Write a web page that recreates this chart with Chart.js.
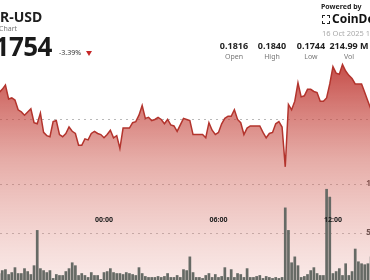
<!DOCTYPE html>
<html>
<head>
<meta charset="utf-8">
<script src="https://cdn.jsdelivr.net/npm/chart.js@4.4.1/dist/chart.umd.min.js"></script>
<style>
  html, body { margin: 0; padding: 0; width: 370px; height: 280px; overflow: hidden; background: #fff; }
  body { position: relative; font-family: 'Noto Sans', 'Open Sans', sans-serif; }
  #chart-wrap { position: absolute; left: 0; top: 0; width: 383px; height: 282px; }
  .t { position: absolute; white-space: nowrap; line-height: 1; }
  .stat { position: absolute; width: 50px; text-align: center; line-height: 1; }
  .stat b { display: block; font-size: 9px; font-weight: 700; color: #222; }
  .stat span { display: block; font-size: 7px; color: #777; margin-top: 3px; }
</style>
</head>
<body>
<div id="chart-wrap"><canvas id="fluxo-chart"></canvas></div>

<div class="t" style="left:0;top:10px;font-size:14px;font-weight:700;color:#1f1f1f">R-USD</div>
<div class="t" style="left:-1px;top:25px;font-size:7px;color:#777">Chart</div>
<div class="t" style="right:318px;top:33px;font-size:26px;font-weight:700;color:#1a1a1a;text-align:right;letter-spacing:-0.5px">0.1754</div>
<div class="t" style="left:59px;top:49px;font-size:7px;color:#333">-3.39%</div>
<div style="position:absolute;left:86px;top:51px;width:0;height:0;border-left:3px solid transparent;border-right:3px solid transparent;border-top:5px solid #c62828"></div>

<div class="t" style="left:321px;top:3px;font-size:7px;font-weight:700;color:#222">Powered by</div>
<div style="position:absolute;left:322px;top:15px;width:6px;height:7px;border:1px dashed #222"></div>
<div class="t" style="left:332px;top:13px;font-size:12px;font-weight:700;color:#111">CoinDesk</div>
<div class="t" style="left:322px;top:30px;font-size:7.5px;color:#aaa">16 Oct 2025 16:00</div>

<div class="stat" style="left:209px;top:41px"><b>0.1816</b><span>Open</span></div>
<div class="stat" style="left:247px;top:41px"><b>0.1840</b><span>High</span></div>
<div class="stat" style="left:286px;top:41px"><b>0.1744</b><span>Low</span></div>
<div class="stat" style="left:324px;top:41px"><b>214.99 M</b><span>Vol</span></div>

<script>
// barras de 10 min, primeira às 18:30 do dia anterior
const horaInicio = -5.5
const passoHora = 1 / 6

const precos = [
  0.1814, 0.1817, 0.1821, 0.1808, 0.1809, 0.1807, 0.1798, 0.1796, 0.1793, 0.1796,
  0.1799, 0.1786, 0.1785, 0.1795, 0.1777, 0.1774, 0.1773, 0.1787, 0.1788, 0.1775,
  0.1773, 0.1776, 0.1782, 0.1778, 0.1776, 0.1765, 0.1765, 0.1771, 0.1770, 0.1776,
  0.1778, 0.1776, 0.1775, 0.1772, 0.1775, 0.1779, 0.1772, 0.1774, 0.1762, 0.1781,
  0.1781, 0.1781, 0.1786, 0.1787, 0.1793, 0.1802, 0.1790, 0.1791, 0.1788, 0.1789,
  0.1791, 0.1789, 0.1785, 0.1789, 0.1784, 0.1783, 0.1778, 0.1784, 0.1790, 0.1789,
  0.1788, 0.1775, 0.1775, 0.1775, 0.1775, 0.1772, 0.1786, 0.1779, 0.1775, 0.1777,
  0.1785, 0.1790, 0.1792, 0.1792, 0.1798, 0.1789, 0.1786, 0.1775, 0.1781, 0.1783,
  0.1783, 0.1783, 0.1783, 0.1777, 0.1772, 0.1776, 0.1777, 0.1785, 0.1787, 0.1782,
  0.1745, 0.1803, 0.1798, 0.1806, 0.1823, 0.1810, 0.1811, 0.1817, 0.1817, 0.1815,
  0.1814, 0.1806, 0.1806, 0.1809, 0.1822, 0.1838, 0.1832, 0.1831, 0.1840, 0.1834,
  0.1830, 0.1827, 0.1822, 0.1822, 0.1822, 0.1814, 0.1806, 0.1798
]

// volume em milhões
const volumes = [
  0.9, 1.2, 1.3, 0.8, 1.0, 1.5, 0.9, 0.9, 1.4, 1.1,
  0.8, 1.7, 5.3, 1.4, 1.2, 1.0, 1.2, 0.4, 0.8, 0.7,
  0.7, 1.1, 1.4, 2.0, 1.7, 0.7, 0.9, 0.7, 0.5, 1.0,
  0.7, 0.7, 0.3, 1.0, 1.1, 1.4, 1.0, 0.9, 0.9, 0.8,
  1.0, 0.9, 0.8, 0.7, 1.5, 0.9, 0.6, 0.5, 0.5, 0.5,
  0.6, 0.5, 0.6, 0.9, 0.5, 0.5, 0.7, 0.5, 1.3, 1.2,
  2.6, 1.0, 0.5, 0.5, 0.4, 0.7, 0.9, 0.5, 0.8, 0.5,
  0.6, 1.5, 0.5, 1.3, 0.5, 0.9, 0.8, 0.5, 1.4, 0.5,
  0.5, 0.6, 0.7, 0.4, 0.6, 0.5, 0.4, 0.5, 0.4, 0.5,
  7.6, 5.3, 2.0, 2.6, 1.7, 0.5, 0.6, 0.8, 1.2, 1.5,
  0.9, 0.7, 0.7, 9.5, 8.7, 0.9, 1.1, 1.4, 0.7, 1.9,
  0.7, 1.1, 3.4, 2.1, 1.9, 1.8, 1.9, 2.6
]

const horasTick = [0, 6, 12]
const labelsTick = ['00:00', '06:00', '12:00']
const volumeTicks = [5, 10]
const volumeLabels = ['5M', '10M']
const precoGrade = [0.1789]

const horas = precos.map((_, i) => horaInicio + i * passoHora)
const seriePreco = precos.map((p, i) => ({ x: horas[i], y: p }))
const serieVolume = volumes.map((v, i) => ({ x: horas[i], y: v }))

function gradiente(ctx) {
  const area = ctx.chart.chartArea
  if (!area) return 'rgba(200,70,60,0.4)'
  const g = ctx.chart.ctx.createLinearGradient(0, area.top + 60, 0, area.bottom)
  g.addColorStop(0, 'rgba(185,40,35,0.85)')
  g.addColorStop(0.45, 'rgba(205,90,80,0.5)')
  g.addColorStop(1, 'rgba(225,140,130,0.18)')
  return g
}

// eixos sem ocupar espaço: o gráfico vai de borda a borda
function semEspaco(s) {
  if (!s.isHorizontal()) s.width = 0
  s.paddingLeft = 0
  s.paddingRight = 0
  s.paddingTop = 0
  s.paddingBottom = 0
}

const pontilhado = { display: false, dash: [2, 4] }

new Chart(document.getElementById('fluxo-chart'), {
  type: 'bar',
  data: {
    datasets: [
      {
        type: 'bar',
        label: 'Volume',
        data: serieVolume,
        yAxisID: 'yv',
        backgroundColor: '#666a65',
        borderWidth: 0,
        barPercentage: 0.85,
        categoryPercentage: 1,
        order: 0
      },
      {
        type: 'line',
        label: 'Preço',
        data: seriePreco,
        yAxisID: 'y',
        borderColor: '#b3342d',
        borderWidth: 1.5,
        backgroundColor: gradiente,
        fill: 'start',
        pointRadius: 0,
        tension: 0,
        order: 1
      }
    ]
  },
  options: {
    responsive: true,
    maintainAspectRatio: false,
    animation: false,
    layout: { padding: 0 },
    plugins: { legend: { display: false }, tooltip: { enabled: false } },
    scales: {
      x: {
        type: 'linear',
        offset: false,
        position: { y: 0.1711 },
        min: -5.451,
        max: 14.623,
        afterBuildTicks: s => { s.ticks = horasTick.map(v => ({ value: v })) },
        afterFit: semEspaco,
        ticks: {
          z: 1,
          padding: 4,
          maxRotation: 0,
          autoSkip: false,
          color: '#222',
          font: { family: 'Noto Sans', size: 7, weight: '700' },
          callback: v => labelsTick[horasTick.indexOf(v)]
        },
        grid: { display: false },
        border: { display: false }
      },
      y: {
        position: 'left',
        min: 0.1638,
        max: 0.1900,
        afterBuildTicks: s => { s.ticks = precoGrade.map(v => ({ value: v })) },
        afterFit: semEspaco,
        ticks: { display: false },
        grid: { color: '#b9b9b9', drawTicks: false, lineWidth: 1 },
        border: pontilhado
      },
      yv: {
        position: 'right',
        min: 0,
        max: 28.78,
        afterBuildTicks: s => { s.ticks = volumeTicks.map(v => ({ value: v })) },
        afterFit: semEspaco,
        ticks: {
          mirror: true,
          crossAlign: 'far',
          padding: 0,
          color: '#444',
          font: { family: 'Noto Sans', size: 8, weight: '700', lineHeight: 1 },
          callback: v => volumeLabels[volumeTicks.indexOf(v)]
        },
        grid: { color: '#bdbdbd', drawTicks: false, lineWidth: 1 },
        border: pontilhado
      }
    }
  }
})
</script>
</body>
</html>
